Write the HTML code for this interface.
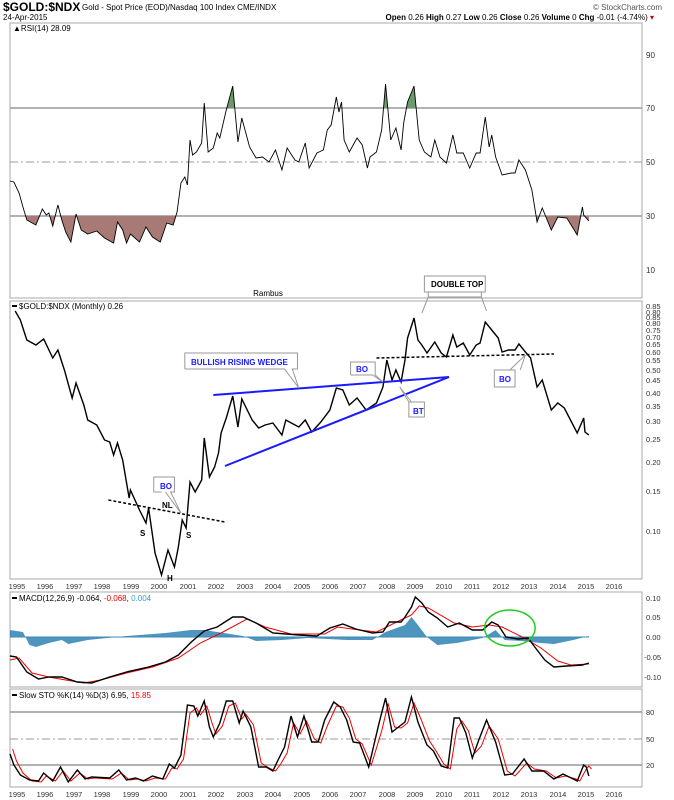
<!DOCTYPE html>
<html><head><meta charset="utf-8"><style>
body{margin:0;background:#fff;}
svg{display:block;font-family:"Liberation Sans",sans-serif;}
</style></head><body>
<svg width="674" height="800" viewBox="0 0 674 800" xmlns="http://www.w3.org/2000/svg">
<defs>
<clipPath id="below30"><rect x="10" y="216" width="490" height="80"/></clipPath>
<clipPath id="above70"><rect x="10" y="20" width="490" height="88"/></clipPath>
</defs>
<!-- header -->
<text x="3" y="11" font-size="12" font-weight="bold">$GOLD:$NDX</text>
<text x="82" y="10" font-size="8">Gold - Spot Price (EOD)/Nasdaq 100 Index  CME/INDX</text>
<text x="3" y="20" font-size="8">24-Apr-2015</text>
<text x="662" y="10" font-size="8" fill="#555" text-anchor="end">© StockCharts.com</text>
<text x="654" y="20" font-size="8" text-anchor="end"><tspan font-weight="bold">Open</tspan> 0.26 <tspan font-weight="bold">High</tspan> 0.27 <tspan font-weight="bold">Low</tspan> 0.26 <tspan font-weight="bold">Close</tspan> 0.26 <tspan font-weight="bold">Volume</tspan> 0 <tspan font-weight="bold">Chg</tspan> -0.01 (-4.74%) <tspan fill="#c00">▾</tspan></text>

<!-- panel boxes -->
<g fill="none" stroke="#aaa" stroke-width="1">
<rect x="10" y="23" width="632" height="275"/>
<rect x="10" y="301" width="632" height="278"/>
<rect x="10" y="592" width="632" height="95"/>
<rect x="10" y="689" width="632" height="98"/>
</g>

<!-- gridlines -->
<line x1="10" y1="108" x2="642" y2="108" stroke="#999" stroke-width="1.5"/>
<line x1="10" y1="216" x2="642" y2="216" stroke="#999" stroke-width="1.5"/>
<line x1="10" y1="162" x2="642" y2="162" stroke="#999" stroke-dasharray="8,3,2,3"/>
<line x1="10" y1="712" x2="642" y2="712" stroke="#999" stroke-width="1.5"/>
<line x1="10" y1="765" x2="642" y2="765" stroke="#999" stroke-width="1.5"/>
<line x1="10" y1="739" x2="642" y2="739" stroke="#999" stroke-dasharray="8,3,2,3"/>

<g transform="translate(10,0) scale(1.295,1) translate(-10,0)">
<!-- RSI -->
<polygon clip-path="url(#below30)" fill="#a87a76" points="10,181 13,182 17,193 20,207 23,220 30,225 35,209 38,215 40,213 43,226 47,205 50,220 53,232 57,242 61,214 65,230 70,234 77,231 83,238 90,243 93,222 97,230 100,243 103,234 110,242 115,227 120,237 126,242 131,223 136,225 139,212 142,183 142,216 413,216 413,190 417,222 421,208 428,230 433,217 440,218 448,235 452,207 453,215 457,221 457,216"/>
<polygon clip-path="url(#above70)" fill="#6b9a6b" points="177,110 182,86 186,142 177,142"/>
<polygon clip-path="url(#above70)" fill="#6b9a6b" points="297,130 300,84 304,140"/>
<polygon clip-path="url(#above70)" fill="#6b9a6b" points="314,123 317,102 322,86 326,140 314,140"/>
<polyline fill="none" stroke="#000" stroke-width="0.9" vector-effect="non-scaling-stroke" points="10,181 13,182 17,193 20,207 23,220 30,225 35,209 38,215 40,213 43,226 47,205 50,220 53,232 57,242 61,214 65,230 70,234 77,231 83,238 90,243 93,222 97,230 100,243 103,234 110,242 115,227 120,237 126,242 131,223 136,225 139,212 142,183 145,177 147,185 149,140 151,155 154,152 158,143 160,103 163,152 167,148 170,133 172,138 177,110 182,86 186,142 189,118 195,147 200,158 205,157 210,162 215,150 220,170 224,148 230,160 233,162 238,143 241,168 247,153 252,150 255,130 258,125 262,97 264,112 266,102 268,140 272,152 275,145 278,138 282,145 286,168 288,157 293,152 297,130 300,84 304,140 308,128 312,150 314,123 317,102 322,86 326,140 330,152 335,157 338,140 342,157 347,163 352,135 355,153 360,153 365,168 370,153 373,153 377,117 380,147 382,135 385,157 390,175 397,173 400,173 403,160 408,170 413,190 417,222 421,208 428,230 433,217 440,218 448,235 452,207 453,215 457,221"/>

<!-- main -->
<polyline fill="none" stroke="#000" stroke-width="1.4" vector-effect="non-scaling-stroke" points="14,311 18,320 23,340 30,345 36,339 43,358 47,350 52,370 58,398 61,383 67,405 70,420 77,425 83,440 87,442 90,455 93,443 97,460 102,498 103,490 110,510 115,523 117,508 122,553 127,575 132,550 137,567 140,547 143,520 146,528 149,482 153,492 158,480 160,438 164,477 168,467 171,453 173,433 177,418 182,396 186,427 189,399 197,420 202,428 207,425 213,423 220,435 223,420 233,427 238,420 243,432 250,422 257,410 262,388 267,390 272,405 278,398 285,410 293,403 298,387 301,360 305,380 308,370 312,382 315,360 317,338 322,318 325,340 328,345 332,353 338,342 343,353 347,357 352,335 355,347 360,343 365,355 370,345 373,343 377,322 382,330 387,338 390,352 395,350 400,350 403,344 408,352 412,358 417,387 421,380 428,410 433,403 438,408 448,433 453,418 454,432 457,435"/>
<line x1="86" y1="500" x2="176" y2="522" stroke="#000" stroke-width="1.5" stroke-dasharray="3,2" vector-effect="non-scaling-stroke"/>
<line x1="293" y1="358" x2="430" y2="354" stroke="#000" stroke-width="1.5" stroke-dasharray="3,2" vector-effect="non-scaling-stroke"/>
<line x1="167" y1="395" x2="349" y2="377" stroke="#1a1aff" stroke-width="2" vector-effect="non-scaling-stroke"/>
<line x1="176" y1="466" x2="349" y2="377" stroke="#1a1aff" stroke-width="2" vector-effect="non-scaling-stroke"/>
<g fill="#fff" stroke="#999" stroke-width="1">
<polyline vector-effect="non-scaling-stroke" points="127,492 121,492 121,477 137,477 137,492 134,492 142,513 130,492" />
<polyline vector-effect="non-scaling-stroke" points="145,369 145,353 232,353 232,369 228,369 233,388 222,369 145,369"/>
<polyline vector-effect="non-scaling-stroke" points="273,375 273,362 292,362 292,375 298,382 290,375 273,375"/>
<polyline vector-effect="non-scaling-stroke" points="318,417 318,402 330,402 330,417 318,417 318,402 311,387 320,402"/>
<polyline vector-effect="non-scaling-stroke" points="384,387 384,370 400,370 400,387 384,387 384,370 396,370 408,355 404,370"/>
<rect vector-effect="non-scaling-stroke" x="330" y="276" width="47" height="16"/>
</g>
<g fill="none" stroke="#999" stroke-width="1">
<polyline vector-effect="non-scaling-stroke" points="333,292 333,297 328,313"/><polyline vector-effect="non-scaling-stroke" points="374,292 374,297 378,311"/>
<polyline vector-effect="non-scaling-stroke" points="333,297 374,297"/>
</g>

<!-- MACD -->
<polygon fill="#3a89b8" opacity="0.9" points="10,637 10,630 20,632 25,645 30,647 40,643 50,640 55,644 70,640 100,636 130,633 150,630 160,630 170,632 190,636 200,641 220,640 240,638 270,640 290,640 300,632 315,625 320,617 325,625 332,637 340,645 355,643 375,638 385,630 392,640 405,641 420,643 430,644 445,640 457,636 457,637"/>
<line x1="10" y1="637" x2="457" y2="637" stroke="#3a89b8" stroke-width="1"/>
<polyline fill="none" stroke="#e00" stroke-width="1" vector-effect="non-scaling-stroke" points="10,660 17,658 27,673 40,677 53,680 67,683 80,680 100,673 120,667 140,658 157,643 173,633 193,619 207,627 227,634 253,634 263,627 280,630 293,632 307,623 320,615 326,606 333,608 353,623 367,627 380,625 390,627 407,638 420,648 433,661 443,665 457,664"/>
<polyline fill="none" stroke="#000" stroke-width="1.4" vector-effect="non-scaling-stroke" points="10,656 15,657 23,672 32,679 40,677 50,677 62,682 73,683 87,677 100,672 117,667 130,662 140,655 150,642 160,631 170,627 182,617 190,617 200,623 213,633 233,635 247,636 257,628 267,624 277,629 290,633 298,632 303,622 312,622 315,617 320,607 323,597 328,603 333,612 340,618 348,627 357,623 367,630 375,630 382,622 387,625 393,637 402,639 410,638 417,650 423,660 430,667 440,666 452,665 457,663"/>
<ellipse cx="396" cy="628" rx="19.5" ry="18" fill="none" stroke="#2c2" stroke-width="1.5" vector-effect="non-scaling-stroke"/>

<!-- STO -->
<polyline fill="none" stroke="#e00" stroke-width="1" vector-effect="non-scaling-stroke" transform="translate(2,1)" points="10,748 13,760 18,772 25,780 32,781 36,775 43,780 49,770 55,780 62,772 68,778 73,777 87,778 94,772 100,779 107,778 113,780 120,777 128,778 133,767 137,768 142,758 147,712 152,707 155,714 160,705 164,722 167,733 172,725 177,705 182,702 187,718 190,713 196,724 202,762 208,767 213,770 217,763 222,752 227,722 232,733 237,720 243,738 248,742 253,725 260,705 265,706 270,717 275,738 280,743 287,764 295,730 300,703 305,726 310,727 315,722 320,702 325,717 332,740 337,750 343,763 348,768 353,728 357,720 362,730 367,752 372,745 378,725 385,738 392,770 398,775 407,762 413,768 422,770 430,777 437,775 445,778 448,780 453,768 455,765 457,768"/>
<polyline fill="none" stroke="#000" stroke-width="1.4" vector-effect="non-scaling-stroke" points="10,754 13,765 18,775 25,780 32,781 36,773 43,781 49,767 55,782 62,770 68,779 73,777 87,778 94,770 100,780 107,778 113,781 120,776 128,779 133,764 137,768 142,755 147,705 152,706 155,716 160,701 164,727 167,737 172,723 177,701 182,701 187,723 190,711 196,727 202,767 208,767 213,771 217,760 222,747 227,716 232,737 237,716 243,742 248,742 253,720 260,702 265,707 270,720 275,742 280,743 287,767 295,723 300,698 305,732 310,727 315,722 320,697 325,722 332,745 337,751 343,766 348,768 353,718 357,718 362,733 367,758 372,740 378,720 385,742 392,775 398,774 407,759 413,771 422,771 430,779 437,774 445,779 448,781 453,765 455,767 457,776"/>
</g>

<!-- RSI labels -->
<text x="13" y="31" font-size="8">▲RSI(14) 28.09</text>
<g font-size="8" fill="#333"><text x="646" y="58">90</text><text x="646" y="111">70</text><text x="646" y="165">50</text><text x="646" y="219">30</text><text x="646" y="273">10</text></g>
<text x="268" y="296" font-size="8" text-anchor="middle">Rambus</text>

<!-- main labels -->
<line x1="12" y1="306" x2="17" y2="306" stroke="#000" stroke-width="2"/>
<text x="19" y="309" font-size="8">$GOLD:$NDX (Monthly) 0.26</text>
<g font-size="7.5" fill="#333">
<text x="646" y="309">0.85</text><text x="646" y="315">0.80</text><text x="646" y="320">0.85</text><text x="646" y="326">0.80</text>
<text x="646" y="333">0.75</text><text x="646" y="340">0.70</text><text x="646" y="347">0.65</text><text x="646" y="355">0.60</text>
<text x="646" y="363">0.55</text><text x="646" y="373">0.50</text><text x="646" y="383">0.45</text><text x="646" y="396">0.40</text>
<text x="646" y="409">0.35</text><text x="646" y="424">0.30</text><text x="646" y="442">0.25</text><text x="646" y="465">0.20</text>
<text x="646" y="494">0.15</text><text x="646" y="534">0.10</text>
</g>
<g font-size="8" font-weight="bold">
<text x="140" y="536">S</text><text x="162" y="508">NL</text><text x="167" y="581">H</text><text x="186" y="538">S</text>
</g>
<g font-size="8" font-weight="bold" fill="#1a1aff">
<text x="160" y="489">BO</text>
<text x="191" y="365">BULLISH RISING WEDGE</text>
<text x="356" y="372">BO</text>
<text x="413" y="414">BT</text>
<text x="499" y="382">BO</text>
</g>
<text x="431" y="287" font-size="8" font-weight="bold">DOUBLE TOP</text>

<!-- year axes -->
<g font-size="7.5" fill="#333" text-anchor="middle">
<text x="17" y="589">1995</text><text x="45" y="589">1996</text><text x="74" y="589">1997</text><text x="102" y="589">1998</text><text x="131" y="589">1999</text><text x="159" y="589">2000</text><text x="188" y="589">2001</text><text x="216" y="589">2002</text><text x="245" y="589">2003</text><text x="273" y="589">2004</text><text x="302" y="589">2005</text><text x="330" y="589">2006</text><text x="358" y="589">2007</text><text x="387" y="589">2008</text><text x="415" y="589">2009</text><text x="444" y="589">2010</text><text x="472" y="589">2011</text><text x="501" y="589">2012</text><text x="529" y="589">2013</text><text x="558" y="589">2014</text><text x="586" y="589">2015</text><text x="614" y="589">2016</text>
</g>
<g font-size="7.5" fill="#333" text-anchor="middle">
<text x="17" y="797">1995</text><text x="45" y="797">1996</text><text x="74" y="797">1997</text><text x="102" y="797">1998</text><text x="131" y="797">1999</text><text x="159" y="797">2000</text><text x="188" y="797">2001</text><text x="216" y="797">2002</text><text x="245" y="797">2003</text><text x="273" y="797">2004</text><text x="302" y="797">2005</text><text x="330" y="797">2006</text><text x="358" y="797">2007</text><text x="387" y="797">2008</text><text x="415" y="797">2009</text><text x="444" y="797">2010</text><text x="472" y="797">2011</text><text x="501" y="797">2012</text><text x="529" y="797">2013</text><text x="558" y="797">2014</text><text x="586" y="797">2015</text><text x="614" y="797">2016</text>
</g>

<!-- MACD labels -->
<line x1="12" y1="598" x2="17" y2="598" stroke="#000" stroke-width="2"/>
<text x="19" y="601" font-size="8">MACD(12,26,9) -0.064, <tspan fill="#e00">-0.068</tspan>, <tspan fill="#3a9ad0">0.004</tspan></text>
<g font-size="7.5" fill="#333"><text x="646" y="601">0.10</text><text x="646" y="620">0.05</text><text x="646" y="640">0.00</text><text x="644" y="660">-0.05</text><text x="644" y="680">-0.10</text></g>

<!-- STO labels -->
<line x1="12" y1="695" x2="17" y2="695" stroke="#000" stroke-width="2"/>
<text x="19" y="698" font-size="8">Slow STO %K(14) %D(3) 6.95, <tspan fill="#e00">15.85</tspan></text>
<g font-size="7.5" fill="#333"><text x="646" y="715">80</text><text x="646" y="742">50</text><text x="646" y="768">20</text></g>
</svg>
</body></html>
